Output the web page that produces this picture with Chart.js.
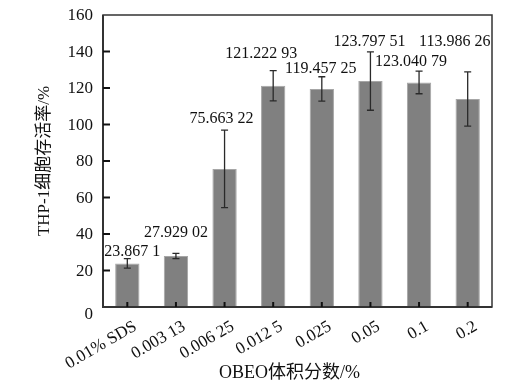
<!DOCTYPE html>
<html>
<head>
<meta charset="utf-8">
<script src="https://cdn.jsdelivr.net/npm/chart.js@4.4.1/dist/chart.umd.min.js"></script>
<style>
  html, body { margin: 0; padding: 0; background: #fff; }
  #wrap { width: 509px; height: 390px; }
</style>
</head>
<body>
<div id="wrap"><canvas id="chart"></canvas></div>
<script>
const categories = ["0.01% SDS", "0.003 13", "0.006 25", "0.012 5", "0.025", "0.05", "0.1", "0.2"];
const viability = [23.8671, 27.92902, 75.66322, 121.22293, 119.45725, 123.79751, 123.04079, 113.98626];
const errors = [2.6, 1.4, 21.2, 8.3, 6.7, 16.0, 6.2, 14.9];
const valueLabels = ["23.867 1", "27.929 02", "75.663 22", "121.222 93", "119.457 25", "123.797 51", "123.040 79", "113.986 26"];
const yTicks = [0, 20, 40, 60, 80, 100, 120, 140, 160];
const xTitle = "OBEO体积分数/%";
const yTitle = "THP-1细胞存活率/%";

// label nudges (px) relative to bar centre / error-bar top
const labelShift = [[5, -7], [0, -21], [-3, -11], [-12, -17], [-1, -8], [-1, -10], [-8, -9], [-13, -30]];

const SERIF = '"Liberation Serif", "Times New Roman", "Noto Sans CJK SC", serif';

const axesPlugin = {
  id: "axesPlugin",
  afterDatasetsDraw(chart) {
    const { ctx, chartArea: a, scales: { x, y } } = chart;
    ctx.save();

    // error bars
    ctx.strokeStyle = "#2a2a2a";
    ctx.lineWidth = 1.3;
    viability.forEach((v, i) => {
      const cx = x.getPixelForValue(i);
      const top = y.getPixelForValue(v + errors[i]);
      const bot = y.getPixelForValue(v - errors[i]);
      ctx.beginPath();
      ctx.moveTo(cx, top); ctx.lineTo(cx, bot);
      ctx.moveTo(cx - 3.5, top); ctx.lineTo(cx + 3.5, top);
      ctx.moveTo(cx - 3.5, bot); ctx.lineTo(cx + 3.5, bot);
      ctx.stroke();
    });

    // value labels
    ctx.fillStyle = "#111";
    ctx.font = "16px " + SERIF;
    ctx.textAlign = "center";
    ctx.textBaseline = "middle";
    valueLabels.forEach((t, i) => {
      const cx = x.getPixelForValue(i) + labelShift[i][0];
      const cy = y.getPixelForValue(viability[i] + errors[i]) + labelShift[i][1];
      ctx.fillText(t, cx, cy);
    });

    // box
    ctx.strokeStyle = "#333";
    ctx.lineWidth = 1.5;
    ctx.strokeRect(a.left, a.top, a.right - a.left, a.bottom - a.top);
    ctx.lineWidth = 2;
    ctx.beginPath();
    ctx.moveTo(a.left, a.top); ctx.lineTo(a.left, a.bottom); ctx.lineTo(a.right, a.bottom);
    ctx.stroke();

    // y ticks (inward) and labels
    ctx.strokeStyle = "#111";
    ctx.lineWidth = 2;
    ctx.font = "17px " + SERIF;
    ctx.textAlign = "right";
    ctx.textBaseline = "middle";
    yTicks.forEach((t) => {
      const py = y.getPixelForValue(t);
      if (t !== 0 && t !== 160) {
        ctx.beginPath(); ctx.moveTo(a.left, py); ctx.lineTo(a.left + 7, py); ctx.stroke();
      }
      ctx.fillText(String(t), a.left - 10, t === 0 ? py + 8 : py + 1);
    });

    // x ticks (inward) and rotated labels
    ctx.textAlign = "right";
    ctx.textBaseline = "top";
    categories.forEach((c, i) => {
      const px = x.getPixelForValue(i);
      ctx.beginPath(); ctx.moveTo(px, a.bottom); ctx.lineTo(px, a.bottom - 5); ctx.stroke();
      ctx.save();
      ctx.translate(px + 4, a.bottom + 11);
      ctx.rotate(-Math.PI / 6);
      ctx.fillText(c, 0, 0);
      ctx.restore();
    });

    // axis titles
    ctx.font = "18px " + SERIF;
    ctx.textAlign = "center";
    ctx.textBaseline = "middle";
    ctx.fillText(xTitle, (a.left + a.right) / 2 - 8, 373);
    ctx.save();
    ctx.translate(45, (a.top + a.bottom) / 2);
    ctx.rotate(-Math.PI / 2);
    ctx.font = "17px " + SERIF;
    ctx.fillText(yTitle, 0, 0);
    ctx.restore();

    ctx.restore();
  }
};

new Chart(document.getElementById("chart"), {
  type: "bar",
  data: {
    labels: categories,
    datasets: [{
      data: viability,
      backgroundColor: "#808080",
      borderColor: "#a6a6a6",
      borderWidth: { left: 1, right: 1, top: 1, bottom: 0 },
      barPercentage: 0.5,
      categoryPercentage: 1
    }]
  },
  options: {
    responsive: true,
    maintainAspectRatio: false,
    animation: false,
    layout: { padding: { left: 103, right: 17, top: 15, bottom: 83 } },
    plugins: { legend: { display: false }, tooltip: { enabled: false } },
    scales: {
      x: { display: false },
      y: { display: false, min: 0, max: 160 }
    }
  },
  plugins: [axesPlugin]
});
</script>
</body>
</html>
